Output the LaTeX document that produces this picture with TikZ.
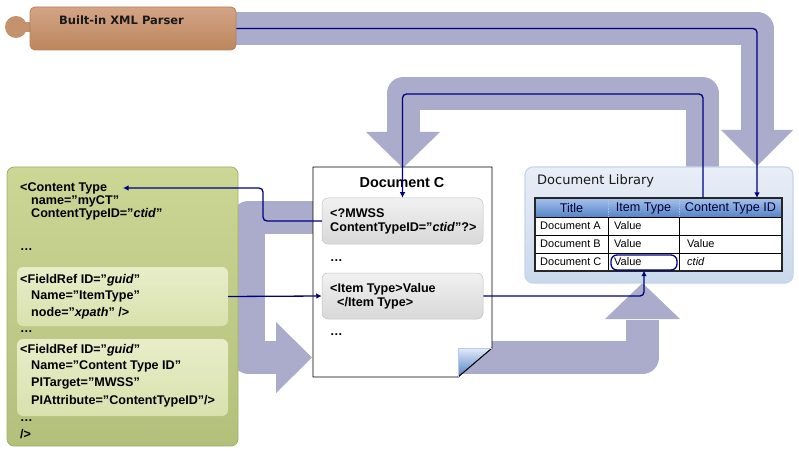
\documentclass[tikz,border=0pt]{standalone}
\usepackage{fontspec}
\setmainfont{Liberation Sans}
\newfontfamily\tah{DejaVu Sans}
\usetikzlibrary{arrows.meta}
\definecolor{lav}{HTML}{ABABCB}
\definecolor{navyl}{HTML}{000080}
\definecolor{parsertop}{HTML}{D3A485}
\definecolor{parserbot}{HTML}{BC865E}
\definecolor{parserline}{HTML}{B5805A}
\definecolor{greentop}{HTML}{CCD695}
\definecolor{greenbot}{HTML}{B3C07B}
\definecolor{greenline}{HTML}{A3B06A}
\definecolor{paletop}{HTML}{E8EDC8}
\definecolor{palebot}{HTML}{D9E1AE}
\definecolor{graytop}{HTML}{F1F1F1}
\definecolor{graybot}{HTML}{D8D8D8}
\definecolor{libtop}{HTML}{E9EEF7}
\definecolor{libbot}{HTML}{C9D8EC}
\definecolor{libline}{HTML}{C6D4E9}
\definecolor{hdrtop}{HTML}{A7C2EA}
\definecolor{hdrbot}{HTML}{5584CA}
\definecolor{foldtop}{HTML}{E4EBF7}
\definecolor{foldbot}{HTML}{4F7FC6}
\begin{document}
\begin{tikzpicture}[x=1pt,y=-1pt,
  band/.style={draw=lav, line width=33pt, line join=round},
  head/.style={fill=lav},
  conn/.style={draw=navyl, line width=1.3pt, rounded corners=4pt},
  tip/.style={-{Latex[length=5.5pt,width=5.5pt]}},
  xml/.style={font=\bfseries\fontsize{12.6}{14}\selectfont, anchor=base west, inner sep=0pt},
  cell/.style={font=\fontsize{11}{13}\selectfont, anchor=west, inner sep=0pt},
  hcell/.style={font=\fontsize{12.6}{14}\selectfont, inner sep=0pt, text=black!80!blue},
  greenpanel/.style={top color=greentop, bottom color=greenbot, draw=greenline, line width=0.8pt, rounded corners=7pt},
  palebox/.style={top color=paletop, bottom color=palebot, draw=none, rounded corners=6pt},
  graybox/.style={top color=graytop, bottom color=graybot, draw=graybot!90!black, line width=0.5pt, rounded corners=6pt},
]
\useasboundingbox (0,0) rectangle (799,454);

% ---------- lavender flow arrows ----------
\draw[band] (230,28.5) -- (757,28.5) -- (757,131);
\fill[head] (721,130) -- (793,130) -- (757,166) -- cycle;

\draw[band] (702.5,178) -- (702.5,93.5) -- (403,93.5) -- (403,133);
\fill[head] (366,132) -- (440,132) -- (403,168) -- cycle;

\draw[band] (320,217.5) -- (248.5,217.5) -- (248.5,357.5) -- (277,357.5);
\fill[head] (276,322) -- (312,357.5) -- (276,393) -- cycle;

\draw[band] (460,357.5) -- (642.5,357.5) -- (642.5,320);
\fill[head] (605,319) -- (680,319) -- (642.5,283) -- cycle;

% ---------- parser ----------
\fill[parserbot!60!parsertop] (16,27) circle[radius=11];
\fill[parserbot!60!parsertop] (22,22) rectangle (33,32);
\node[top color=parsertop, bottom color=parserbot, draw=parserline, line width=0.8pt,
      rounded corners=5pt, minimum width=206pt, minimum height=43pt, inner sep=0pt] (parser) at (133,28.5) {};
\node[font=\tah\bfseries\fontsize{11.5}{13}\selectfont, inner sep=0pt, text=black!90] (ptext) at (121.5,20.5) {Built-in XML Parser};

% ---------- left green panel ----------
\node[greenpanel, minimum width=231pt, minimum height=279pt, inner sep=0pt] (green) at (122.5,306.5) {};
\node[palebox, minimum width=211pt, minimum height=59pt, inner sep=0pt] (fr1) at (122.5,296.5) {};
\node[palebox, minimum width=211pt, minimum height=77pt, inner sep=0pt] (fr2) at (122.5,377.5) {};

\node[xml] (c1) at (20,192) {<Content Type};
\node[xml] (c2) at (31,204.5) {name=”myCT”};
\node[xml] (c3) at (31,217) {ContentTypeID=”\textit{ctid}”};
\node[xml] (c4) at (20,250) {…};
\node[xml] (f1a) at (20,283) {<FieldRef ID=”\textit{guid}”};
\node[xml] (f1b) at (31,299.5) {Name=”ItemType”};
\node[xml] (f1c) at (31,316) {node=”\textit{xpath}” />};
\node[xml] (c5) at (20,332) {…};
\node[xml] (f2a) at (20,353) {<FieldRef ID=”\textit{guid}”};
\node[xml] (f2b) at (31,369.5) {Name=”Content Type ID”};
\node[xml] (f2c) at (31,386.5) {PITarget=”MWSS”};
\node[xml] (f2d) at (31,404) {PIAttribute=”ContentTypeID”/>};
\node[xml] (c6) at (20,421) {…};
\node[xml] (c7) at (20,438) {/>};

% ---------- Document C ----------
\filldraw[fill=white, draw=black, line width=0.9pt] (313,167) -- (492,167) -- (492,348) -- (458,377) -- (313,377) -- cycle;
\shade[top color=foldtop, bottom color=foldbot] (458,348) -- (492,348) -- (458,377) -- cycle;
\draw[black, line width=0.9pt] (492,348) -- (458,377);
\draw[foldtop!70!foldbot, line width=0.5pt] (458,377) -- (458,348) -- (492,348);

\node[font=\bfseries\fontsize{14.4}{16}\selectfont, anchor=base, inner sep=0pt] (dtitle) at (402,188) {Document C};
\node[graybox, minimum width=161pt, minimum height=46pt, inner sep=0pt] (mw) at (402.5,221) {};
\node[graybox, minimum width=161pt, minimum height=46pt, inner sep=0pt] (ib) at (402.5,296) {};
\node[xml] (d1) at (330,217) {<?MWSS};
\node[xml] (d2) at (330,231) {ContentTypeID=”\textit{ctid}”?>};
\node[xml] (d3) at (330,261) {…};
\node[xml] (d4) at (330,292) {<Item Type>Value};
\node[xml] (d5) at (337,306) {</Item Type>};
\node[xml] (d6) at (330,335) {…};

% ---------- Document Library ----------
\node[top color=libtop, bottom color=libbot, draw=libline, line width=1.2pt, rounded corners=8pt,
      minimum width=268pt, minimum height=116pt, inner sep=0pt] (lib) at (659,225) {};
\node[font=\tah\fontsize{13}{15}\selectfont, anchor=west, inner sep=0pt, text=black!90] (libt) at (537,181) {Document Library};

\shade[top color=hdrtop, bottom color=hdrbot] (535,198) rectangle (782,217);
\fill[white] (535,217) rectangle (782,271);
\draw[white!50!hdrbot, line width=0.6pt, densely dotted] (608,198) -- (608,217) (679,198) -- (679,217);
\draw[black, line width=0.8pt] (535,235) -- (782,235) (535,253) -- (782,253)
      (608,217) -- (608,271) (679,217) -- (679,271);
\draw[black, line width=0.8pt] (535,217) -- (782,217);
\draw[black!85, line width=1.2pt] (535,198) rectangle (782,271);

\node[hcell] (h1) at (571.5,208) {Title};
\node[hcell] (h2) at (643.5,208) {Item Type};
\node[hcell] (h3) at (730.5,208) {Content Type ID};
\node[cell] (r1a) at (540,226) {Document A};
\node[cell] (r1b) at (614,226) {Value};
\node[cell] (r2a) at (540,244) {Document B};
\node[cell] (r2b) at (614,244) {Value};
\node[cell] (r2c) at (687,244) {Value};
\node[cell] (r3a) at (540,262) {Document C};
\node[cell] (r3b) at (614,262) {Value};
\node[cell] (r3c) at (687,262) {\textit{ctid}};
\node[draw=navyl, line width=1.3pt, rounded corners=6pt, minimum width=66pt, minimum height=15pt, inner sep=0pt] (hl) at (644,262.5) {};

% ---------- navy connectors ----------
\coordinate (pin1) at (757,198);
\coordinate (libpin) at (703,198);
\coordinate (ctend) at (123,188);
\draw[conn, tip] (parser.east) -| (pin1);
\draw[conn, tip] (libpin) -- (703,94) -| (mw.north);
\draw[conn, tip] (mw.west) -- (263,221) -- (263,188) -- (ctend);
\draw[conn, tip] (fr1.east) -- (ib.west);
\draw[conn, tip] (ib.east) -| (hl.south);
\end{tikzpicture}
\end{document}
